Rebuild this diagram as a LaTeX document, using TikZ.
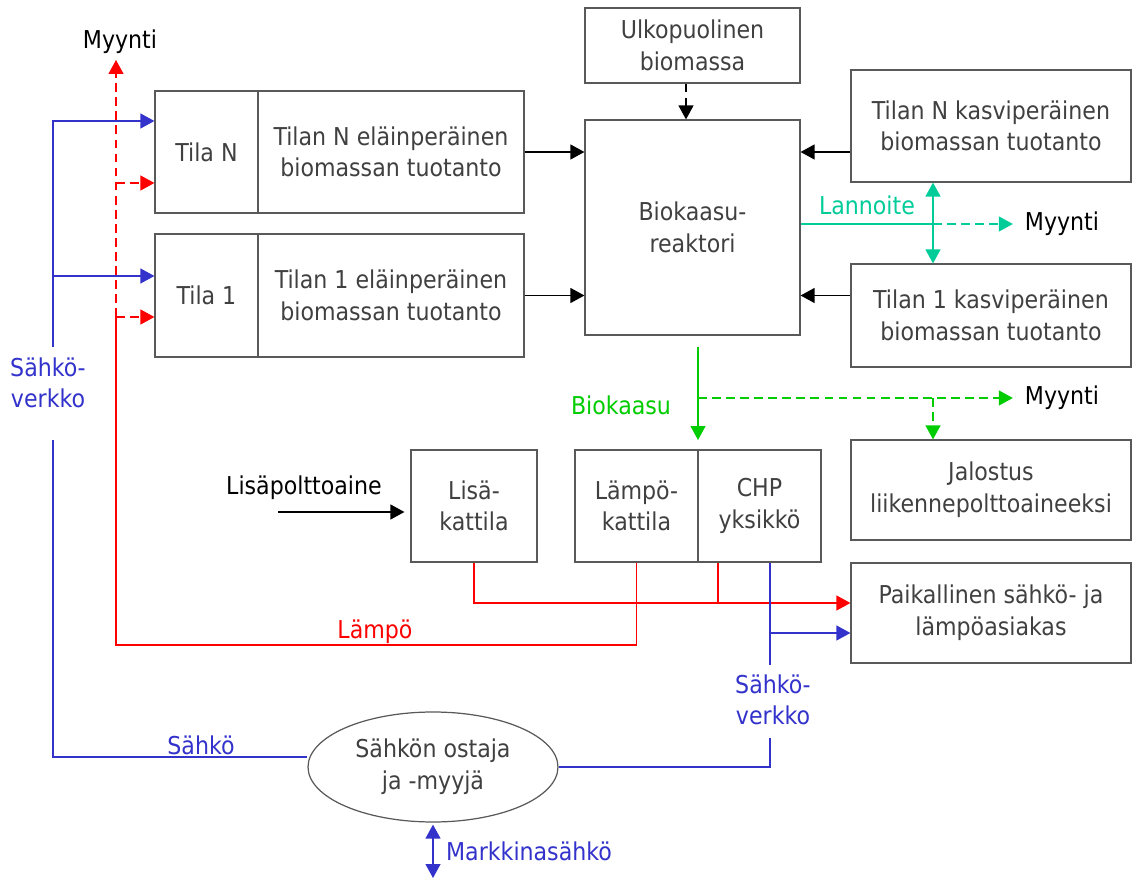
\documentclass[tikz,border=0pt]{standalone}
\usepackage{fontspec}
\setmainfont{DejaVu Sans Condensed}
\usetikzlibrary{arrows.meta,shapes.geometric,positioning}
\definecolor{boxline}{HTML}{595959}
\definecolor{boxtext}{HTML}{404040}
\definecolor{elblue}{HTML}{3333CC}
\definecolor{heatred}{HTML}{FF0000}
\definecolor{lanteal}{HTML}{00CC99}
\definecolor{gasgreen}{HTML}{00CC00}

\begin{document}
\begin{tikzpicture}
    [x=0.02cm,y=-0.02cm,
    font=\fontsize{14}{18}\selectfont,
    >={Triangle[length=0.28cm,width=0.3cm]},
    box/.style={rectangle,draw=boxline,line width=0.7pt,text=boxtext,align=center,inner sep=0pt},
    lbl/.style={align=center,inner sep=1pt},
    flow/.style={line width=0.7pt},
    dashline/.style={dashed,dash pattern=on 5pt off 3pt}]
    \useasboundingbox (0,0) rectangle (1133,878);
    % farms
    \node (tilaN) at (206.5,152) [box,minimum width=2.06cm,minimum height=2.44cm] {Tila N};
    \node (tuotN) at (391,152) [box,minimum width=5.32cm,minimum height=2.44cm] {Tilan N eläinperäinen\\biomassan tuotanto};
    \node (tila1) at (206.5,295.5) [box,minimum width=2.06cm,minimum height=2.46cm] {Tila 1};
    \node (tuot1) at (391,295.5) [box,minimum width=5.32cm,minimum height=2.46cm] {Tilan 1 eläinperäinen\\biomassan tuotanto};
    % reactor and inputs
    \node (ulko) at (692.5,45.5) [box,minimum width=4.3cm,minimum height=1.5cm] {Ulkopuolinen\\biomassa};
    \node (reaktori) at (692.5,227.5) [box,minimum width=4.3cm,minimum height=4.3cm] {Biokaasu-\\reaktori};
    \node (kasviN) at (991,126) [box,minimum width=5.6cm,minimum height=2.24cm] {Tilan N kasviperäinen\\biomassan tuotanto};
    \node (kasvi1) at (991,315.5) [box,minimum width=5.6cm,minimum height=2.06cm] {Tilan 1 kasviperäinen\\biomassan tuotanto};
    \node (jalostus) at (991,490) [box,minimum width=5.6cm,minimum height=2cm] {Jalostus\\liikennepolttoaineeksi};
    \node (paik) at (991,613) [box,minimum width=5.6cm,minimum height=2cm] {Paikallinen sähkö- ja\\lämpöasiakas};
    % boilers
    \node (lisa) at (474,506) [box,minimum width=2.52cm,minimum height=2.24cm] {Lisä-\\kattila};
    \node (lampo) at (636.5,506) [box,minimum width=2.46cm,minimum height=2.24cm] {Lämpö-\\kattila};
    \node (chp) at (759.5,506) [box,minimum width=2.46cm,minimum height=2.24cm] {CHP\\yksikkö};
    \node (ostaja) at (433,767) [ellipse,draw=boxline,line width=0.7pt,text=boxtext,align=center,inner sep=0pt,minimum width=5cm,minimum height=2.2cm] {Sähkön ostaja\\ja -myyjä};
    % labels
    \node (myy0) at (120,42) [lbl] {Myynti};
    \node (myy1) at (1062,224) [lbl] {Myynti};
    \node (myy2) at (1062,398) [lbl] {Myynti};
    \node (lannoite) at (867,205) [lbl,text=lanteal] {Lannoite};
    \node (biokaasu) at (621,405) [lbl,text=gasgreen] {Biokaasu};
    \node (lisapolt) at (304,488) [lbl] {Lisäpolttoaine};
    \node (lampolbl) at (375,632) [lbl,text=heatred] {Lämpö};
    \node (verkko1) at (48,383) [lbl,text=elblue] {Sähkö-\\verkko};
    \node (verkko2) at (773,700) [lbl,text=elblue] {Sähkö-\\verkko};
    \node (sahko) at (201,745) [lbl,text=elblue] {Sähkö};
    \node (markkina) at (529,851) [lbl,text=elblue] {Markkinasähkö};

    % biomass to reactor
    \draw[flow,->] (tuotN.east) -- (reaktori.west |- tuotN.east);
    \draw[flow,->] (tuot1.east) -- (reaktori.west |- tuot1.east);
    \draw[flow,->] (kasviN.west |- tuotN.east) -- (reaktori.east |- tuotN.east);
    \draw[flow,->] (kasvi1.west |- tuot1.east) -- (reaktori.east |- tuot1.east);
    \draw[flow,dashline,->] (ulko.south -| 686,0) -- (reaktori.north -| 686,0);
    % fertiliser
    \coordinate (lanx) at (933,224);
    \draw[flow,lanteal] (reaktori.east |- lanx) -- (lanx);
    \draw[flow,lanteal,dashline,->] (lanx) -- ([xshift=-0.2cm]myy1.west |- lanx);
    \draw[flow,lanteal,<->] (kasviN.south -| lanx) -- (kasvi1.north -| lanx);
    % biogas
    \coordinate (gasx) at (698,398);
    \coordinate (jalx) at (933,398);
    \draw[flow,gasgreen,->] (gasx |- 0,347) -- (gasx |- 0,440);
    \draw[flow,gasgreen,dashline,->] (gasx) -- ([xshift=-0.2cm]myy2.west |- gasx);
    \draw[flow,gasgreen,dashline,->] (jalx) -- (jalostus.north -| jalx);
    \draw[flow,->] (278,512) -- ([xshift=-0.12cm]lisa.west |- 0,512);
    % heat
    \coordinate (heat) at (718,603);
    \coordinate (back) at (116,317);
    \draw[flow,heatred,->] (lisa.south) |- (paik.west |- heat);
    \draw[flow,heatred] (chp.south -| heat) -- (heat);
    \draw[flow,heatred] (lampo.south) |- (116,645) -- (back);
    \draw[flow,heatred,dashline,->] (back) -- (116,60);
    \draw[flow,heatred,dashline,->] (back) -- (tila1.west |- back);
    \draw[flow,heatred,dashline,->] (116,183) -- (tilaN.west |- 0,183);
    % electricity
    \coordinate (elx) at (770,633);
    \coordinate (grid) at (53,757);
    \draw[flow,elblue,->] (53,347) |- (tilaN.west |- 0,121);
    \draw[flow,elblue,->] (53,276) -- (tila1.west |- 0,276);
    \draw[flow,elblue] (grid |- 0,440) -- (grid) -- (ostaja.west |- grid);
    \draw[flow,elblue] (ostaja.east) -| (elx |- 0,738);
    \draw[flow,elblue] (elx |- 0,665) -- (chp.south -| elx);
    \draw[flow,elblue,->] (elx) -- (paik.west |- elx);
    \draw[flow,elblue,<->] ([yshift=-0.04cm]ostaja.south) -- (433,878);
\end{tikzpicture}
\end{document}
